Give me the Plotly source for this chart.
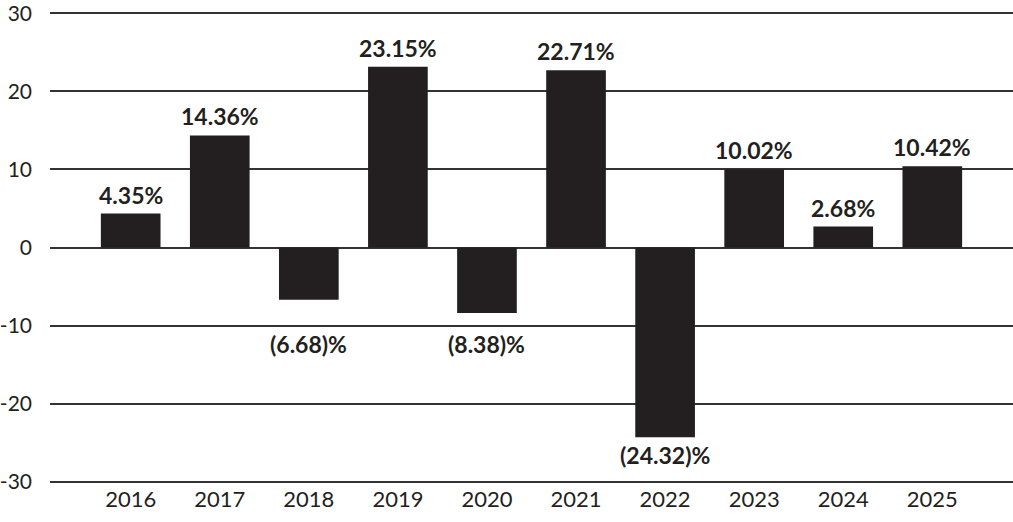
import plotly.graph_objects as go

years = ["2016", "2017", "2018", "2019", "2020", "2021", "2022", "2023", "2024", "2025"]
returns = [4.35, 14.36, -6.68, 23.15, -8.38, 22.71, -24.32, 10.02, 2.68, 10.42]
labels = ["4.35%", "14.36%", "(6.68)%", "23.15%", "(8.38)%", "22.71%", "(24.32)%", "10.02%", "2.68%", "10.42%"]
y_ticks = [-30, -20, -10, 0, 10, 20, 30]

INK = "#231f20"
FONT = "Lato, 'Open Sans', sans-serif"

fig = go.Figure()
fig.add_trace(go.Bar(
    x=list(range(len(years))), y=returns,
    marker=dict(color=INK, line=dict(width=0)),
    width=0.67,
    hoverinfo="skip",
))

for i, (v, t) in enumerate(zip(returns, labels)):
    if v >= 0:
        fig.add_annotation(x=i, y=v, text="<b>%s</b>" % t, showarrow=False,
                           yanchor="bottom", yshift=3,
                           font=dict(family=FONT, size=23, color=INK))
    else:
        fig.add_annotation(x=i, y=min(v, -10), text="<b>%s</b>" % t, showarrow=False,
                           yanchor="top", yshift=-2,
                           font=dict(family=FONT, size=23, color=INK))

fig.update_layout(
    width=1013, height=522,
    margin=dict(l=47, r=0, t=11, b=38),
    plot_bgcolor="white", paper_bgcolor="white",
    showlegend=False,
    font=dict(family=FONT, size=21, color=INK),
    xaxis=dict(
        range=[-0.906, 9.906],
        tickmode="array", tickvals=list(range(len(years))), ticktext=years,
        showgrid=False, zeroline=False, showline=False,
        ticks="", tickfont=dict(size=22, color=INK),
    ),
    yaxis=dict(
        range=[-30.3, 30.3],
        tickmode="array", tickvals=y_ticks, ticktext=[str(t) for t in y_ticks],
        showgrid=True, gridcolor="#333333", gridwidth=2,
        zeroline=True, zerolinecolor="#333333", zerolinewidth=2,
        showline=False, ticks="", ticklabelstandoff=17,
        ticklabeloverflow="allow",
        tickfont=dict(size=21, color=INK),
    ),
)

fig.write_html("out.html")
